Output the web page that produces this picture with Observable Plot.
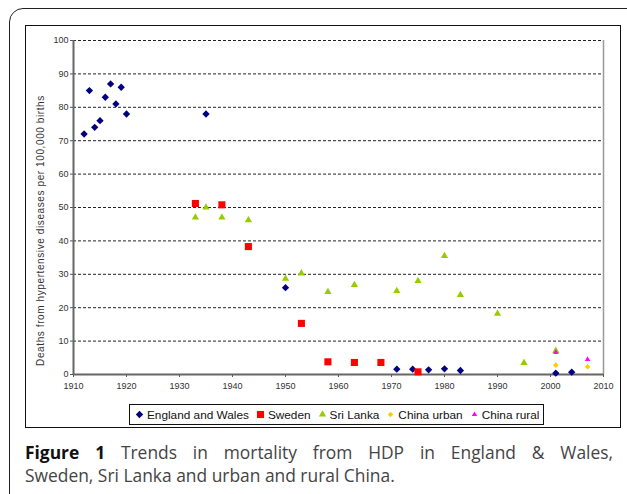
<!DOCTYPE html>
<html>
<head>
<meta charset="utf-8">
<script src="https://cdn.jsdelivr.net/npm/d3@7"></script>
<script src="https://cdn.jsdelivr.net/npm/@observablehq/plot@0.6"></script>
<style>
  html, body { margin: 0; padding: 0; background: #fff; }
  #page { position: relative; width: 627px; height: 494px; overflow: hidden; }
  #outer { position: absolute; left: 9px; top: 8px; width: 640px; height: 520px; border: 1.5px solid #222; border-radius: 14px; box-sizing: border-box; }
  #inner { position: absolute; left: 25px; top: 25px; width: 596px; height: 403px; border: 1px solid #111; box-sizing: border-box; }
  #chart { position: absolute; left: 0; top: 0; }
  #legend { position: absolute; left: 129px; top: 404px; height: 21px; border: 1px solid #111; box-sizing: border-box; background: #fff;
            display: flex; align-items: center; padding: 0 4px 0 5px; font-family: "Liberation Sans", Arial, sans-serif; font-size: 11.8px; color: #111; white-space: nowrap; }
  .item { display: flex; align-items: center; margin-right: 7px; }
  .item:last-child { margin-right: 0; }
  .item svg { margin-right: 3px; }
  #caption { position: absolute; left: 25px; top: 441px; width: 588px; font-family: "Open Sans", sans-serif; font-size: 17.4px; line-height: 23px;
             color: #444; }
  #caption .l1 { display: block; text-align: justify; text-align-last: justify; white-space: nowrap; }
  #caption .l1 { white-space: normal; }
  #caption .l2 { display: block; text-align: left; }
  #caption b { color: #111; }
</style>
</head>
<body>
<div id="page">
  <div id="outer"></div>
  <div id="inner"></div>
  <div id="chart"></div>
  <div id="legend"></div>
  <div id="caption"><span class="l1"><b>Figure 1</b> Trends in mortality from HDP in England &amp; Wales,</span><span class="l2">Sweden, Sri Lanka and urban and rural China.</span></div>
</div>
<script>
// ---- Data ----
const seriesNames = ["England and Wales", "Sweden", "Sri Lanka", "China urban", "China rural"];

const englandYears  = [1912, 1913, 1914, 1915, 1916, 1917, 1918, 1919, 1920, 1935, 1950, 1971, 1974, 1977, 1980, 1983, 2001, 2004];
const englandValues = [72, 85, 74, 76, 83, 87, 81, 86, 78, 78, 26, 1.6, 1.6, 1.4, 1.7, 1.2, 0.4, 0.7];

const swedenYears  = [1933, 1938, 1943, 1953, 1958, 1963, 1968, 1975];
const swedenValues = [51.2, 50.8, 38.3, 15.3, 3.8, 3.6, 3.6, 0.8];

const sriLankaYears  = [1933, 1935, 1938, 1943, 1950, 1953, 1958, 1963, 1971, 1975, 1980, 1983, 1990, 1995, 2001];
const sriLankaValues = [47, 50, 47, 46.2, 28.7, 30.3, 24.7, 26.8, 25, 28, 35.5, 23.8, 18.2, 3.5, 7.1];

const chinaUrbanYears  = [2001, 2007];
const chinaUrbanValues = [2.8, 2.3];

const chinaRuralYears  = [2001, 2007];
const chinaRuralValues = [6.6, 4.5];

const xTicks = [1910, 1920, 1930, 1940, 1950, 1960, 1970, 1980, 1990, 2000, 2010];
const yTicks = [0, 10, 20, 30, 40, 50, 60, 70, 80, 90, 100];
const yLabel = "Deaths from hypertensive diseases per 100,000 births";

// ---- Styles ----
const styles = [
  {symbol: "diamond2", fill: "#000080", r: 3.3},
  {symbol: "square",   fill: "#FF0000", r: 4.0},
  {symbol: "triangle", fill: "#99CC00", r: 2.7},
  {symbol: "diamond2", fill: "#FFCC00", r: 2.5},
  {symbol: "triangle", fill: "#FF00FF", r: 2.0}
];

const seriesData = [
  [englandYears, englandValues],
  [swedenYears, swedenValues],
  [sriLankaYears, sriLankaValues],
  [chinaUrbanYears, chinaUrbanValues],
  [chinaRuralYears, chinaRuralValues]
].map(([ys, vs], i) => ys.map((year, j) => ({year, value: vs[j], series: seriesNames[i]})));

const gridVals = yTicks.filter(d => d > 0);

const chart = Plot.plot({
  width: 627,
  height: 400,
  marginLeft: 73,
  marginRight: 24,
  marginTop: 40,
  marginBottom: 26,
  style: {background: "transparent", fontFamily: "'Liberation Sans', Arial, sans-serif", overflow: "visible"},
  x: {domain: [1910, 2010]},
  y: {domain: [0, 100]},
  marks: [
    Plot.ruleY(gridVals, {stroke: "#222", strokeWidth: 1, strokeDasharray: "3,2"}),
    Plot.ruleX([2010], {stroke: "#999", strokeWidth: 1.5}),
    Plot.axisX({ticks: xTicks, tickFormat: d => String(d), tickSize: 3, tickPadding: 5, fontSize: 9, stroke: "#555", color: "#333", label: null}),
    Plot.axisY({ticks: yTicks, tickSize: 3, tickPadding: 2, fontSize: 9, stroke: "#555", color: "#333", label: null}),
    Plot.ruleY([0], {stroke: "#666", strokeWidth: 2}),
    Plot.ruleX([1910], {stroke: "#666", strokeWidth: 2}),
    Plot.text([yLabel], {frameAnchor: "left", rotate: -90, dx: -33, dy: 23, fontSize: 10, fill: "#333", textAnchor: "middle"}),
    ...seriesData.map((data, i) => Plot.dot(data, {
      x: "year", y: "value", symbol: () => styles[i].symbol, fill: styles[i].fill, stroke: "none", r: styles[i].r
    }))
  ]
});
chart.querySelectorAll("text").forEach(t => { if (t.textContent === yLabel) t.setAttribute("letter-spacing", "0.6"); });
document.getElementById("chart").appendChild(chart);

// ---- Legend ----
const symMap = {diamond2: d3.symbolDiamond2, square: d3.symbolSquare, triangle: d3.symbolTriangle};
const legend = document.getElementById("legend");
seriesNames.forEach((name, i) => {
  const s = styles[i];
  const item = document.createElement("span");
  item.className = "item";
  const sz = 9;
  const path = d3.symbol(symMap[s.symbol], Math.PI * s.r * s.r)();
  item.innerHTML = `<svg width="${sz}" height="${sz}" viewBox="${-sz/2} ${-sz/2} ${sz} ${sz}"><path d="${path}" fill="${s.fill}"/></svg><span>${name}</span>`;
  legend.appendChild(item);
});
</script>
</body>
</html>
